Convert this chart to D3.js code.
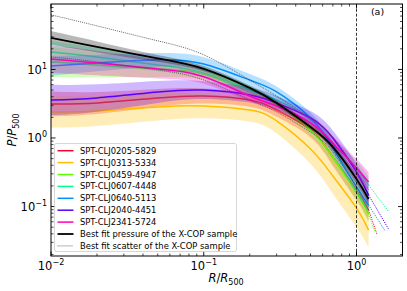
<!DOCTYPE html>
<html><head><meta charset="utf-8">
<script src="https://cdn.jsdelivr.net/npm/d3@7"></script>
<style>body{margin:0;background:#fff} svg{display:block} text{font-family:"DejaVu Sans",sans-serif;fill:#000}</style>
</head><body><svg id="c" width="407" height="291"></svg>
<script>
// ---- data ----
const R = [0.01, 0.02, 0.05, 0.1, 0.2, 0.3, 0.5, 0.7, 1.0, 1.2];
const clusters = ["SPT-CLJ0205-5829","SPT-CLJ0313-5334","SPT-CLJ0459-4947","SPT-CLJ0607-4448","SPT-CLJ0640-5113","SPT-CLJ2040-4451","SPT-CLJ2341-5724"];
const colors = ["#ff0029","#ffbd00","#5cff00","#00ff89","#008fff","#5700ff","#ff00bf"];
const P_0205 = [3.14, 3.24, 3.84, 4.1, 3.59, 2.56, 1.31, 0.528, 0.174, 0.089];
const P_0313 = [2.40, 2.48, 2.84, 2.93, 2.56, 1.77, 0.69, 0.279, 0.095, 0.0454];
const P_0459 = [12.9, 11.6, 10.2, 8.6, 4.7, 3.03, 1.31, 0.528, 0.163, 0.078];
const P_0607 = [18.0, 15.2, 11.6, 8.9, 5.0, 3.59, 1.83, 0.845, 0.365, 0.206];
const P_0640 = [11.2, 12.4, 13.8, 12.0, 7.0, 4.7, 1.96, 0.714, 0.193, 0.105];
const P_2040 = [3.59, 3.84, 4.7, 5.0, 4.25, 3.24, 1.96, 1.0, 0.319, 0.147];
const P_2341 = [14.2, 12.4, 10.2, 7.8, 4.1, 2.93, 1.66, 0.845, 0.365, 0.228];
// half-width of the shaded bands, in dex
const W_0205 = [0.18, 0.16, 0.13, 0.11, 0.10, 0.10, 0.11, 0.13, 0.15, 0.15];
const W_0313 = [0.23, 0.22, 0.20, 0.18, 0.17, 0.18, 0.22, 0.26, 0.28, 0.25];
const W_0459 = [0.22, 0.18, 0.12, 0.09, 0.07, 0.07, 0.08, 0.10, 0.12, 0.13];
const W_0607 = [0.16, 0.13, 0.09, 0.07, 0.06, 0.06, 0.07, 0.08, 0.10, 0.11];
const W_0640 = [0.14, 0.12, 0.10, 0.10, 0.09, 0.08, 0.08, 0.09, 0.10, 0.11];
const W_2040 = [0.22, 0.20, 0.16, 0.13, 0.11, 0.10, 0.10, 0.11, 0.12, 0.12];
const W_2341 = [0.20, 0.18, 0.14, 0.10, 0.08, 0.08, 0.09, 0.10, 0.13, 0.14];
// dotted extrapolations beyond the fitted range (end point), null = none
const extR = [1.36, null, 1.32, 1.63, 1.54, 1.62, null];
const extP = [0.0397, null, 0.0425, 0.083, 0.044, 0.047, null];
// X-COP best fit and scatter
const P_xcop = [28.8, 21.3, 14.5, 10.2, 5.37, 3.24, 1.45, 0.74, 0.252, 0.129];
const W_xcop = [0.10, 0.08, 0.05, 0.04, 0.035, 0.035, 0.04, 0.05, 0.07, 0.08];
const P_scatHi = [62.5, 43.2, 26.1, 16.3, 7.0, 4.1, 1.96, 1.03, 0.34, 0.174];
const P_scatLo = [15.2, 12.9, 9.8, 7.0, 3.59, 2.4, 1.22, 0.625, 0.193, 0.098];
const xMajor = [0.01, 0.1, 1];
const yMajor = [0.1, 1, 10];
const xTickLabels = ["\u22122", "\u22121", "0"];
const yTickLabels = ["\u22121", "0", "1"];
const legendExtra = ["Best fit pressure of the X-COP sample", "Best fit scatter of the X-COP sample"];

const series = [P_0205, P_0313, P_0459, P_0607, P_0640, P_2040, P_2341];
const widths = [W_0205, W_0313, W_0459, W_0607, W_0640, W_2040, W_2341];

// ---- drawing ----
const svg = d3.select("#c");
const L = 51, Rr = 402.5, T = 4, B = 256;
const x = d3.scaleLog().domain([0.01, 2]).range([L, Rr]);
const y = d3.scaleLog().domain([0.019, 90]).range([B, T]);

svg.append("defs").append("clipPath").attr("id","clip")
  .append("rect").attr("x",L).attr("y",T).attr("width",Rr-L).attr("height",B-T);
const g = svg.append("g").attr("clip-path","url(#clip)");

const line = d3.line().x(d=>x(d[0])).y(d=>y(d[1])).curve(d3.curveNatural);
const area = d3.area().x(d=>x(d[0])).y0(d=>y(d[1])).y1(d=>y(d[2])).curve(d3.curveNatural);

series.forEach((P,i)=>{
  const band = R.map((r,k)=>[r, P[k]/Math.pow(10,widths[i][k]), P[k]*Math.pow(10,widths[i][k])]);
  g.append("path").attr("d",area(band)).attr("fill",colors[i]).attr("fill-opacity",0.28);
  g.append("path").attr("d",line(R.map((r,k)=>[r,P[k]]))).attr("fill","none")
    .attr("stroke",colors[i]).attr("stroke-width",1.5);
  if (extR[i]!==null){
    g.append("path").attr("d",d3.line().x(d=>x(d[0])).y(d=>y(d[1]))([[R[R.length-1],P[P.length-1]],[extR[i],extP[i]]]))
      .attr("fill","none").attr("stroke",colors[i]).attr("stroke-width",1).attr("stroke-dasharray","1.2,1.2");
  }
});
// X-COP
const bandX = R.map((r,k)=>[r, P_xcop[k]/Math.pow(10,W_xcop[k]), P_xcop[k]*Math.pow(10,W_xcop[k])]);
g.append("path").attr("d",area(bandX)).attr("fill","#000").attr("fill-opacity",0.28);
g.append("path").attr("d",line(R.map((r,k)=>[r,P_xcop[k]]))).attr("fill","none")
  .attr("stroke","#000").attr("stroke-width",1.8);
[P_scatHi, P_scatLo].forEach(P=>{
  g.append("path").attr("d",line(R.map((r,k)=>[r,P[k]]))).attr("fill","none")
    .attr("stroke","#444").attr("stroke-width",0.8).attr("stroke-dasharray","1,1");
});
// R = R500 line
svg.append("line").attr("x1",x(1)).attr("x2",x(1)).attr("y1",T).attr("y2",B)
  .attr("stroke","#000").attr("stroke-width",0.8).attr("stroke-dasharray","3,1.8");

// ticks
const ax = svg.append("g");
function minors(lo,hi){const a=[];for(let e=lo;e<hi;e++){for(let m=2;m<=9;m++)a.push(m*Math.pow(10,e));}return a;}
const xMin = minors(-2,1).filter(v=>v<2);
const yMin = minors(-2,2).filter(v=>v>0.019 && v<90);
function vt(v,len,w){
  ax.append("line").attr("x1",x(v)).attr("x2",x(v)).attr("y1",B).attr("y2",B-len).attr("stroke","#000").attr("stroke-width",w);
  ax.append("line").attr("x1",x(v)).attr("x2",x(v)).attr("y1",T).attr("y2",T+len).attr("stroke","#000").attr("stroke-width",w);
}
function ht(v,len,w){
  ax.append("line").attr("y1",y(v)).attr("y2",y(v)).attr("x1",L).attr("x2",L+len).attr("stroke","#000").attr("stroke-width",w);
  ax.append("line").attr("y1",y(v)).attr("y2",y(v)).attr("x1",Rr).attr("x2",Rr-len).attr("stroke","#000").attr("stroke-width",w);
}
xMin.forEach(v=>vt(v,2.5,0.7)); xMajor.forEach(v=>vt(v,4.5,0.9));
yMin.forEach(v=>ht(v,2.5,0.7)); yMajor.forEach(v=>ht(v,4.5,0.9));
svg.append("rect").attr("x",L).attr("y",T).attr("width",Rr-L).attr("height",B-T)
  .attr("fill","none").attr("stroke","#000").attr("stroke-width",1);

xMajor.forEach((v,i)=>{
  const t = svg.append("text").attr("x",x(v)).attr("y",270).attr("text-anchor","middle").attr("font-size",11.5).text("10");
  t.append("tspan").attr("dy",-5).attr("font-size",8).text(xTickLabels[i]);
});
yMajor.forEach((v,i)=>{
  const t = svg.append("text").attr("x",47).attr("y",y(v)+4.5).attr("text-anchor","end").attr("font-size",11.5).text("10");
  t.append("tspan").attr("dy",-5).attr("font-size",8).text(yTickLabels[i]);
});
// axis labels
const xl = svg.append("text").attr("x",226).attr("y",282).attr("text-anchor","middle").attr("font-size",11.5);
xl.append("tspan").attr("font-style","italic").text("R");
xl.append("tspan").text("/");
xl.append("tspan").attr("font-style","italic").text("R");
xl.append("tspan").attr("dy",2.5).attr("font-size",8).text("500");
const yl = svg.append("text").attr("transform","translate(16,130) rotate(-90)").attr("text-anchor","middle").attr("font-size",11.5);
yl.append("tspan").attr("font-style","italic").text("P");
yl.append("tspan").text("/");
yl.append("tspan").attr("font-style","italic").text("P");
yl.append("tspan").attr("dy",2.5).attr("font-size",8).text("500");
svg.append("text").attr("x",377.5).attr("y",14.5).attr("text-anchor","middle").attr("font-size",9.5).text("(a)");

// legend
const lg = svg.append("g");
lg.append("rect").attr("x",54.5).attr("y",143.5).attr("width",182).attr("height",108).attr("rx",2)
  .attr("fill","#fff").attr("fill-opacity",0.8).attr("stroke","#cccccc").attr("stroke-width",0.8);
const labels = clusters.concat(legendExtra);
labels.forEach((lab,i)=>{
  const yy = 150.7 + i*11.9;
  const ln = lg.append("line").attr("x1",57.5).attr("x2",73.5).attr("y1",yy).attr("y2",yy);
  if (i<7) ln.attr("stroke",colors[i]).attr("stroke-width",1.5);
  else if (i===7) ln.attr("stroke","#000").attr("stroke-width",1.8);
  else ln.attr("stroke","#444").attr("stroke-width",0.8).attr("stroke-dasharray","1,1");
  lg.append("text").attr("x",80).attr("y",yy+3).attr("font-size",8.4).text(lab);
});
</script></body></html>
